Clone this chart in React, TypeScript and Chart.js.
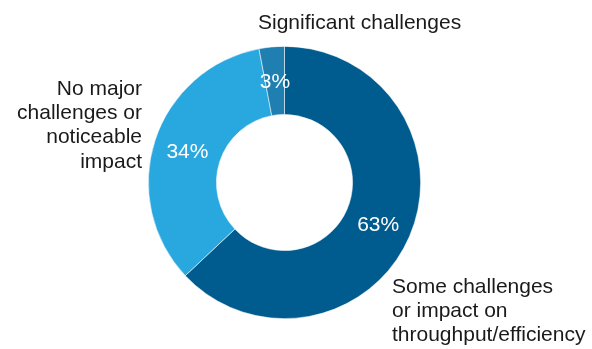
import React, { useEffect, useRef } from "react";
import { Chart, registerables } from "chart.js";

Chart.register(...registerables);

const categories = [
  "Some challenges or impact on throughput/efficiency",
  "No major challenges or noticeable impact",
  "Significant challenges",
];
const values = [63, 34, 3];
const colors = ["#005B8E", "#29A8E0", "#1F7FB0"];
const percentLabels = ["63%", "34%", "3%"];

// outer text labels: lines, alignment and anchor
const outerLabels = [
  { lines: ["Some challenges", "or impact on", "throughput/efficiency"], align: "left", x: 392, y: 293 },
  { lines: ["No major", "challenges or", "noticeable", "impact"], align: "right", x: 142, y: 95 },
  { lines: ["Significant challenges"], align: "left", x: 258, y: 29 },
];

const FONT = "'Liberation Sans', Arial, Helvetica, sans-serif";

const labelPlugin = {
  id: "donutLabels",
  afterDatasetsDraw(chart: any) {
    const ctx = chart.ctx;
    const meta = chart.getDatasetMeta(0);
    ctx.save();
    ctx.font = `21px ${FONT}`;
    ctx.fillStyle = "#ffffff";
    ctx.textAlign = "center";
    ctx.textBaseline = "alphabetic";
    meta.data.forEach((arc: any, i: number) => {
      const p = arc.getCenterPoint();
      ctx.fillText(percentLabels[i], p.x, p.y + 7.5);
    });
    ctx.fillStyle = "#1a1a1a";
    outerLabels.forEach((l) => {
      ctx.textAlign = l.align;
      l.lines.forEach((line, j) => {
        ctx.fillText(line, l.x, l.y + j * 24.2);
      });
    });
    ctx.restore();
  },
};

export default function App() {
  const ref = useRef<HTMLCanvasElement | null>(null);
  useEffect(() => {
    document.body.style.margin = "0";
    if (!ref.current) return;
    const chart = new Chart(ref.current, {
      type: "doughnut",
      data: {
        labels: categories,
        datasets: [
          {
            data: values,
            backgroundColor: colors,
            borderColor: "rgba(255,255,255,0.7)",
            borderWidth: 0.75,
          },
        ],
      },
      options: {
        responsive: false,
        animation: false,
        cutout: "50%",
        layout: { padding: { top: 46, bottom: 30, left: 148, right: 171 } },
        plugins: {
          legend: { display: false },
          tooltip: { enabled: false },
        },
      },
      plugins: [labelPlugin],
    });
    return () => chart.destroy();
  }, []);
  return (
    <div style={{ width: 592, height: 349, background: "#fff" }}>
      <canvas ref={ref} width={592} height={349} style={{ display: "block" }} />
    </div>
  );
}
